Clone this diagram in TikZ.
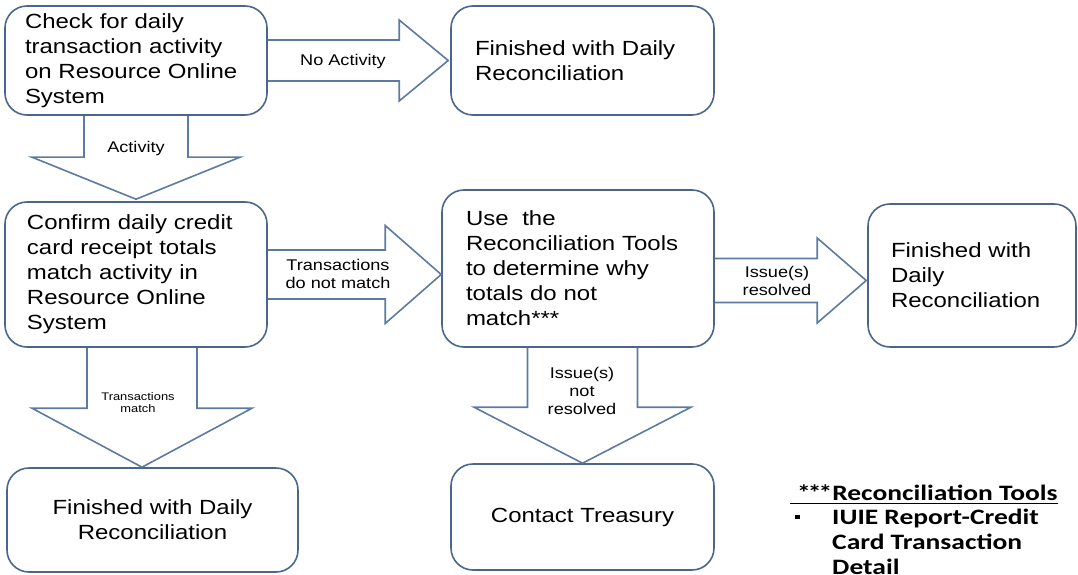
\documentclass[tikz,border=0pt]{standalone}
\usepackage{fontspec}
\setmainfont{Liberation Sans}[FakeStretch=1.17]
\newfontfamily\legendfont{Carlito}[FakeStretch=1.25]
\usetikzlibrary{calc}
\definecolor{boxblue}{RGB}{74,102,140}
\definecolor{arrowblue}{RGB}{92,122,162}

\begin{document}
\begin{tikzpicture}[x=1pt, y=1pt,
  every node/.style = {align=left, inner sep=0pt},
  box/.style = {shape=rectangle, rounded corners=22pt, draw=boxblue,
    line width=1.6pt, font=\fontsize{20.5}{25}\selectfont},
  lbl/.style = {align=center, font=\fontsize{15.5}{18}\selectfont},
  legend/.style = {font=\legendfont\bfseries\fontsize{22}{25}\selectfont},
  harr/.style n args = {3}{draw=arrowblue, line width=1.6pt, to path={
    let \p1=(\tikztostart), \p2=(\tikztotarget) in
    (\x1,\y1+#1pt) -- (\x2-#3pt,\y1+#1pt) -- (\x2-#3pt,\y1+#2pt) -- (\x2,\y1)
    -- (\x2-#3pt,\y1-#2pt) -- (\x2-#3pt,\y1-#1pt) -- (\x1,\y1-#1pt)}},
  varr/.style n args = {3}{draw=arrowblue, line width=1.6pt, to path={
    let \p1=(\tikztostart), \p2=(\tikztotarget) in
    (\x1+#1pt,\y1) -- (\x1+#1pt,\y2+#3pt) -- (\x1+#2pt,\y2+#3pt) -- (\x1,\y2)
    -- (\x1-#2pt,\y2+#3pt) -- (\x1-#1pt,\y2+#3pt) -- (\x1-#1pt,\y1)}}]
  \useasboundingbox (0,0) rectangle (1078,574);

  \node[box, minimum width=262pt, minimum height=109pt, text width=222pt] (chk) at (136,513.5)
    {Check for daily\\transaction activity\\on Resource Online\\System};
  \node[box, minimum width=263pt, minimum height=109pt, text width=215pt] (fin1) at (582.5,513.5)
    {Finished with Daily\\Reconciliation};
  \node[box, minimum width=262pt, minimum height=145pt, text width=218pt] (conf) at (136,299.5)
    {Confirm daily credit\\card receipt totals\\match activity in\\Resource Online\\System};
  \node[box, minimum width=272pt, minimum height=157pt, text width=224pt] (use) at (578,305.5)
    {Use\ \ the\\Reconciliation Tools\\to determine why\\totals do not\\match***};
  \node[box, minimum width=208pt, minimum height=143pt, text width=162pt] (fin2) at (972,298.5)
    {Finished with\\Daily\\Reconciliation};
  \node[box, align=center, minimum width=291pt, minimum height=104pt] (fin3) at (152.5,54)
    {Finished with Daily\\Reconciliation};
  \node[box, align=center, minimum width=263pt, minimum height=106pt] (tre) at (582.5,57)
    {Contact Treasury};

  \draw[harr={20.5}{40.5}{49}] (chk.east) to ([xshift=-2pt]fin1.west);
  \draw[varr={52}{104}{42}] (chk.south) to ([yshift=2pt]conf.north);
  \draw[harr={24.5}{49}{56}] (conf.east) to (use.west);
  \draw[varr={55}{110}{59}] ([xshift=6pt]conf.south) to (fin3.north);
  \draw[harr={22}{42.5}{49}] ([yshift=-12pt]use.east) to ([xshift=-1pt]fin2.west);
  \draw[varr={55}{108.5}{56}] (use.south -| tre.north) to (tre.north);

  \node[lbl] (noact) at (343,513) {No Activity};
  \node[lbl] (act) at (136,426) {Activity};
  \node[lbl] (nomatch) at (338,300) {Transactions\\do not match};
  \node[lbl, font=\fontsize{11}{12}\selectfont] (match) at (138,171) {Transactions\\match};
  \node[lbl] (resolved) at (777,293) {Issue(s)\\resolved};
  \node[lbl] (unresolved) at (582,183) {Issue(s)\\not\\resolved};

  \node[legend, anchor=base west] (tools) at (797,74)
    {*\kern-3pt*\kern-3pt*Reconciliation Tools};
  \draw[line width=1.5pt] ([xshift=-7pt,yshift=-3.5pt]tools.base west) -- ([yshift=-3.5pt]tools.base east);
  \node[legend, anchor=base west] (ttools) at (795,50)
    {\begin{tabular}[t]{@{}p{37pt}@{}l@{}}
      \raisebox{5pt}{\rule{4.5pt}{4.5pt}} & IUIE Report-Credit\\
       & Card Transaction\\
       & Detail
    \end{tabular}};
\end{tikzpicture}
\end{document}
